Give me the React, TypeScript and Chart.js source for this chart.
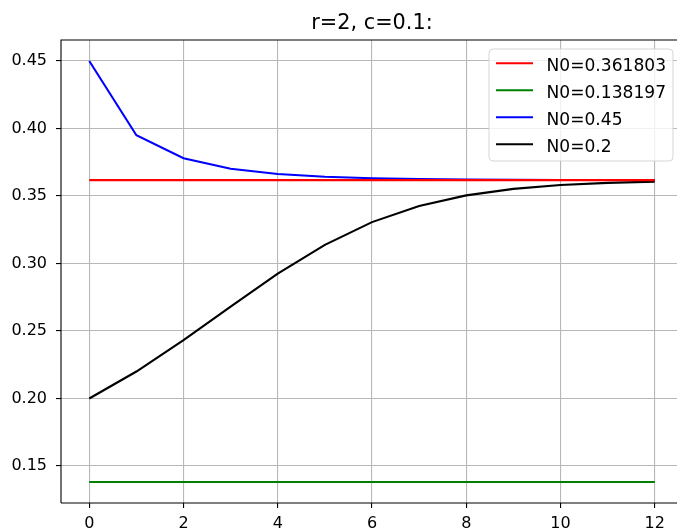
import React, { useEffect, useRef } from "react";
import { Chart, registerables } from "chart.js";

Chart.register(...registerables);

const steps = [0, 1, 2, 3, 4, 5, 6, 7, 8, 9, 10, 11, 12];
const seriesRed = [0.361803, 0.361803, 0.361803, 0.361803, 0.361803, 0.361803, 0.361803, 0.361803, 0.361803, 0.361803, 0.361803, 0.361803, 0.361803];
const seriesGreen = [0.138197, 0.138197, 0.138197, 0.138197, 0.138197, 0.138197, 0.138197, 0.138197, 0.138197, 0.138197, 0.138197, 0.138197, 0.138197];
const seriesBlue = [0.45, 0.395, 0.37795, 0.370208, 0.366308, 0.364253, 0.363146, 0.362542, 0.362211, 0.362028, 0.361927, 0.361872, 0.361841];
const seriesBlack = [0.2, 0.22, 0.2432, 0.268108, 0.292451, 0.313846, 0.330694, 0.34267, 0.350494, 0.355296, 0.358122, 0.359742, 0.360656];
const labels = ["N0=0.361803", "N0=0.138197", "N0=0.45", "N0=0.2"];
const colors = ["#ff0000", "#008000", "#0000ff", "#000000"];
const xTicks = [0, 2, 4, 6, 8, 10, 12];
const yTicks = [0.15, 0.2, 0.25, 0.3, 0.35, 0.4, 0.45];
const titleText = "r=2, c=0.1:";

const FONT = "'DejaVu Sans', sans-serif";

const decorPlugin = {
  id: "decor",
  afterDatasetsDraw(chart: any) {
    const ctx = chart.ctx;
    const a = chart.chartArea;
    ctx.save();
    // spines
    ctx.strokeStyle = "#000";
    ctx.lineWidth = 1.1;
    ctx.beginPath();
    ctx.moveTo(a.left, a.bottom);
    ctx.lineTo(a.left, a.top);
    ctx.lineTo(a.right, a.top);
    ctx.lineTo(a.right, a.bottom);
    ctx.lineTo(a.left, a.bottom);
    ctx.stroke();
    // title
    ctx.fillStyle = "#000";
    ctx.font = "20.8px " + FONT;
    ctx.textAlign = "center";
    ctx.textBaseline = "alphabetic";
    ctx.fillText(titleText, (a.left + a.right) / 2, 29.3);
    // legend
    const bx = 489, by = 49, bw = 184, bh = 112, r = 4;
    ctx.beginPath();
    ctx.moveTo(bx + r, by);
    ctx.lineTo(bx + bw - r, by);
    ctx.quadraticCurveTo(bx + bw, by, bx + bw, by + r);
    ctx.lineTo(bx + bw, by + bh - r);
    ctx.quadraticCurveTo(bx + bw, by + bh, bx + bw - r, by + bh);
    ctx.lineTo(bx + r, by + bh);
    ctx.quadraticCurveTo(bx, by + bh, bx, by + bh - r);
    ctx.lineTo(bx, by + r);
    ctx.quadraticCurveTo(bx, by, bx + r, by);
    ctx.closePath();
    ctx.fillStyle = "rgba(255,255,255,0.8)";
    ctx.fill();
    ctx.strokeStyle = "rgba(204,204,204,0.8)";
    ctx.lineWidth = 1;
    ctx.stroke();
    ctx.font = "17.1px " + FONT;
    ctx.textAlign = "left";
    ctx.textBaseline = "alphabetic";
    chart.data.datasets.forEach((ds: any, i: number) => {
      const y = 63.3 + i * 27;
      ctx.strokeStyle = ds.borderColor;
      ctx.lineWidth = 2;
      ctx.beginPath();
      ctx.moveTo(496, y);
      ctx.lineTo(533, y);
      ctx.stroke();
      ctx.fillStyle = "#000";
      ctx.fillText(ds.label, 546.5, y + 7.2);
    });
    ctx.restore();
  },
};

export default function App() {
  const ref = useRef<HTMLCanvasElement>(null);
  useEffect(() => {
    const series = [seriesRed, seriesGreen, seriesBlue, seriesBlack];
    const chart = new Chart(ref.current as HTMLCanvasElement, {
      type: "line",
      data: {
        datasets: series.map((s, i) => ({
          label: labels[i],
          data: s.map((v, j) => ({ x: steps[j], y: v })),
          borderColor: colors[i],
          backgroundColor: colors[i],
          borderWidth: 2.1,
          pointRadius: 0,
          tension: 0,
          fill: false,
        })),
      },
      options: {
        responsive: false,
        animation: false,
        devicePixelRatio: 1,
        layout: { padding: { top: 40, right: 17, left: 0, bottom: 0 } },
        plugins: { legend: { display: false }, title: { display: false }, tooltip: { enabled: false } },
        scales: {
          x: {
            type: "linear",
            min: -0.6,
            max: 12.6,
            afterBuildTicks: (s: any) => {
              s.ticks = xTicks.map((v) => ({ value: v }));
            },
            afterFit: (s: any) => {
              s.height = 26;
            },
            ticks: { font: { family: FONT, size: 16 }, color: "#000", padding: 6, maxRotation: 0 },
            grid: { color: "#b8b8b8", lineWidth: 1.1, tickColor: "#000", tickLength: 5, tickWidth: 1.1 },
            border: { display: false },
          },
          y: {
            type: "linear",
            min: 0.1226068,
            max: 0.4655902,
            afterBuildTicks: (s: any) => {
              s.ticks = yTicks.map((v) => ({ value: v }));
            },
            afterFit: (s: any) => {
              s.width = 61;
            },
            ticks: {
              font: { family: FONT, size: 16 },
              color: "#000",
              padding: 9,
              callback: (v: any) => Number(v).toFixed(2),
            },
            grid: { color: "#b8b8b8", lineWidth: 1.1, tickColor: "#000", tickLength: 5, tickWidth: 1.1 },
            border: { display: false },
          },
        },
      },
      plugins: [decorPlugin],
    } as any);
    return () => chart.destroy();
  }, []);
  return (
    <div style={{ position: "absolute", left: 0, top: 0, width: 677, height: 529, overflow: "hidden", background: "#fff" }}>
      <canvas ref={ref} width={700} height={529} style={{ display: "block", width: 700, height: 529 }} />
    </div>
  );
}
